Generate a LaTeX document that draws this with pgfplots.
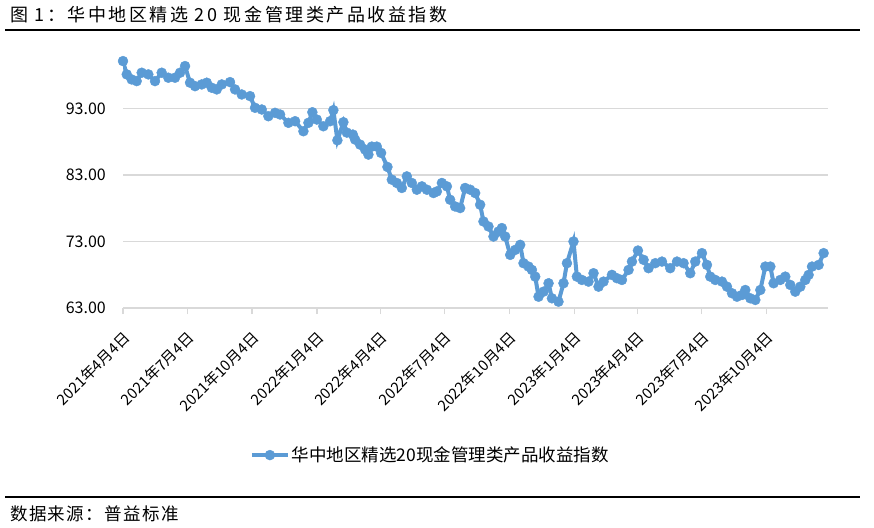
\documentclass[border=0pt]{standalone}
\usepackage{pgfplots}
\usepackage{pgfplotstable}
\pgfplotsset{compat=1.18}
\usepackage{fontspec}
\setmainfont{Noto Sans CJK SC}
\newfontfamily\titlefont[LetterSpace=14]{Noto Sans CJK SC}
\newfontfamily\srcfont[LetterSpace=8]{Noto Sans CJK SC}
\definecolor{serblue}{HTML}{5B9BD5}
\definecolor{gridgray}{HTML}{D9D9D9}
\pgfplotstableread{
x y
0 100.13
5.3 98.13
12.3 97.37
19.4 97.12
26.5 98.38
35.9 98.13
45.4 97.12
54.9 98.38
64.3 97.63
73.8 97.63
80.9 98.38
88.0 99.38
95.1 96.88
102.2 96.36
111.7 96.62
118.8 96.88
125.9 96.12
133.0 95.87
140.1 96.62
151.8 96.97
158.9 95.87
168.4 95.11
180.2 94.86
187.3 93.11
196.8 92.85
206.2 91.84
215.7 92.35
222.8 92.10
234.6 90.85
244.1 91.09
255.9 89.58
263.0 90.85
268.6 92.44
274.9 91.34
284.2 90.33
293.8 91.09
298.4 92.75
304.1 88.22
312.6 90.94
317.5 89.38
326.0 89.08
329.2 88.33
336.3 87.57
343.4 86.82
348.1 86.07
352.9 87.27
360.0 87.27
366.1 86.32
375.1 84.21
381.3 82.30
388.4 81.80
395.5 81.05
402.6 82.79
409.7 81.80
416.8 80.79
423.9 81.29
431.0 80.79
440.4 80.29
445.2 80.53
452.3 81.80
459.4 81.29
464.0 79.28
471.1 78.27
478.2 78.03
485.3 81.05
492.4 80.79
499.5 80.29
506.6 78.53
511.3 76.01
518.4 75.26
525.5 73.75
532.6 74.50
537.4 75.02
542.1 73.75
549.2 70.99
556.3 71.74
563.4 72.50
568.1 69.74
575.2 69.23
580.0 68.73
584.7 67.72
589.4 64.70
596.5 65.46
603.6 66.72
608.4 64.46
617.7 63.95
624.8 66.72
629.7 69.74
639.0 73.00
643.8 67.72
650.9 67.22
660.3 66.97
667.4 68.23
674.5 66.21
681.6 66.97
693.5 67.98
700.6 67.48
707.7 67.22
717.1 68.73
721.9 69.98
730.4 71.64
738.4 70.24
745.4 68.99
755.0 69.74
764.5 69.98
776.2 68.99
785.8 69.98
795.1 69.74
804.6 68.23
811.7 69.98
821.2 71.25
828.3 69.48
833.0 67.72
840.1 67.22
849.6 66.97
856.7 66.21
863.8 65.22
870.9 64.70
878.0 64.96
882.7 65.71
889.8 64.46
896.9 64.21
904.0 65.71
911.1 69.23
918.2 69.23
922.8 66.72
932.3 67.22
939.4 67.72
946.5 66.47
953.6 65.46
960.7 66.21
967.8 67.22
972.5 67.98
977.3 69.23
986.7 69.48
993.8 71.25
}\mydata
\begin{document}
\begin{tikzpicture}[x=1pt,y=1pt]
\draw[line width=1.2pt] (5,-30) -- (860,-30);
\node[anchor=west, inner sep=0pt, font=\titlefont\fontsize{18}{20}\selectfont] at (10,-15) {图 1：华中地区精选 20 现金管理类产品收益指数};
\begin{axis}[
  at={(123pt,-308pt)}, anchor=south west,
  scale only axis, width=705pt, height=266pt,
  xmin=0, xmax=1000, ymin=63, ymax=103,
  ytick={63,73,83,93},
  yticklabel style={/pgf/number format/fixed, /pgf/number format/fixed zerofill, /pgf/number format/precision=2, /pgf/number format/assume math mode=true, inner sep=0pt, xshift=-11pt, font=\fontsize{16}{18}\selectfont},
  xtick={0,91,183,275,365,456,548,640,730,821,913},
  xticklabels={2021年4月4日,2021年7月4日,2021年10月4日,2022年1月4日,2022年4月4日,2022年7月4日,2022年10月4日,2023年1月4日,2023年4月4日,2023年7月4日,2023年10月4日},
  xticklabel style={yshift=-21pt, xshift=4pt, rotate=45, anchor=east, inner sep=0pt, font=\fontsize{15}{17}\selectfont},
  ymajorgrids, grid style={gridgray, line width=1.3pt},
  axis x line*=bottom, axis y line*=left,
  x axis line style={gridgray, line width=1.3pt, -},
  y axis line style={draw=none},
  ytick style={draw=none},
  xtick style={gridgray, line width=1.3pt},
  tick align=outside, major tick length=6pt,
  legend style={at={(0.436,-0.553)}, anchor=center, draw=none, fill=none, font=\fontsize{17.5}{20}\selectfont},
  legend image code/.code={\draw[mark repeat=2, mark phase=2] plot coordinates {(0pt,0pt) (18pt,0pt) (36pt,0pt)};},
]
\addplot[serblue, line width=4pt, mark=*, mark size=5pt, mark options={fill=serblue, draw=serblue, line width=0.4pt}] table[x=x,y=y] {\mydata};
\addlegendentry{华中地区精选20现金管理类产品收益指数}
\end{axis}
\draw[line width=1.2pt] (5,-497) -- (860,-497);
\node[anchor=west, inner sep=0pt, font=\srcfont\fontsize{17.5}{20}\selectfont] at (10,-514) {数据来源：普益标准};
\pgfresetboundingbox
\path[use as bounding box] (0,0) rectangle (874,-527);
\end{tikzpicture}
\end{document}
